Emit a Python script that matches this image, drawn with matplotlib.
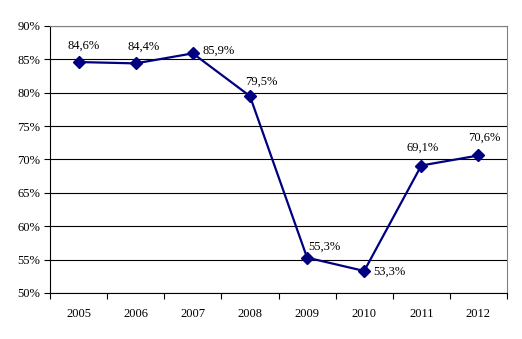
import matplotlib
matplotlib.use("Agg")
import matplotlib.pyplot as plt
import numpy as np

years = ["2005", "2006", "2007", "2008", "2009", "2010", "2011", "2012"]
values = [84.6, 84.4, 85.9, 79.5, 55.3, 53.3, 69.1, 70.6]
labels = ["84,6%", "84,4%", "85,9%", "79,5%", "55,3%", "53,3%", "69,1%", "70,6%"]
y_ticks = [50, 55, 60, 65, 70, 75, 80, 85, 90]
y_tick_labels = ["50%", "55%", "60%", "65%", "70%", "75%", "80%", "85%", "90%"]

# label offsets in pixels (dx, dy) and horizontal alignment
offsets = [(5, 16, "center"), (8, 17, "center"), (10, 3, "left"), (11, 14, "center"),
           (1, 11, "left"), (9, -1, "left"), (1, 18, "center"), (6, 18, "center")]

plt.rcParams['font.family'] = ['Liberation Serif', 'DejaVu Serif']
W, H = 522, 339
fig = plt.figure(figsize=(W / 100, H / 100), dpi=100)
ax = fig.add_axes([50 / W, (H - 293) / H, 457 / W, (293 - 26) / H])

x = np.arange(len(years)) + 0.5
ax.plot(x, values, color="#000080", lw=1.6, marker="D", markersize=6.2,
        markerfacecolor="#000080", markeredgecolor="#000080", zorder=3)

ax.set_xlim(0, len(years))
ax.set_ylim(50, 90)
ax.set_yticks(y_ticks)
ax.set_yticklabels(y_tick_labels, fontsize=9)
ax.yaxis.grid(True, color="black", lw=0.8)
ax.set_axisbelow(True)

ax.set_xticks(np.arange(len(years) + 1))
ax.set_xticklabels([])
ax.set_xticks(x, minor=True)
ax.set_xticklabels(years, minor=True, fontsize=9)
ax.tick_params(axis="x", which="major", direction="out", length=4, width=0.8, color="black")
ax.tick_params(axis="x", which="minor", length=0, pad=11)
ax.tick_params(axis="y", direction="out", length=4, width=0.8, color="black", pad=3)

for s in ["top", "right"]:
    ax.spines[s].set_color("#808080")
    ax.spines[s].set_linewidth(0.8)
for s in ["left", "bottom"]:
    ax.spines[s].set_color("black")
    ax.spines[s].set_linewidth(0.8)

for xi, v, lab, (dx, dy, ha) in zip(x, values, labels, offsets):
    ax.annotate(lab, (xi, v), xytext=(dx * 0.72, dy * 0.72), textcoords="offset points",
                ha=ha, va="center", fontsize=9, color="black")

fig.savefig("out.png", dpi=100)
